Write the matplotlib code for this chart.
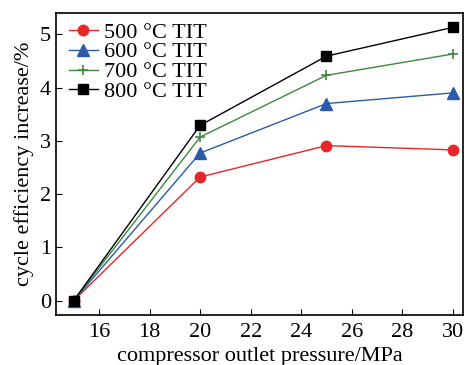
import numpy as np
import matplotlib
matplotlib.use('Agg')
import matplotlib.pyplot as plt

plt.rcParams['font.family'] = ['Liberation Serif', 'DejaVu Serif']

pressure = [15, 20, 25, 30]
eff_500 = [0, 2.32, 2.91, 2.83]
eff_600 = [0, 2.77, 3.70, 3.90]
eff_700 = [0, 3.07, 4.23, 4.63]
eff_800 = [0, 3.29, 4.59, 5.13]
labels = ['500 °C TIT', '600 °C TIT', '700 °C TIT', '800 °C TIT']

fig = plt.figure(figsize=(4.73, 3.65), dpi=100)
ax = fig.add_axes([56/473, 50/365, 407/473, 302/365])

ax.plot(pressure, eff_500, '-o', color='#e8262a', lw=1, ms=7.5, label=labels[0])
ax.plot(pressure, eff_600, '-^', color='#2a5aa8', lw=1, ms=8, label=labels[1])
ax.plot(pressure, eff_700, '-+', color='#3a8a3a', lw=1, ms=7, mew=1.2, label=labels[2])
ax.plot(pressure, eff_800, '-s', color='black', lw=1, ms=6.5, label=labels[3])

ax.set_xlim(14.3, 30.4)
ax.set_ylim(-0.27, 5.4)
ax.set_xticks([16, 18, 20, 22, 24, 26, 28, 30])
ax.set_yticks([0, 1, 2, 3, 4, 5])
ax.tick_params(direction='in', labelsize=16, length=4)
ax.tick_params(axis='x', pad=6)
for s in ax.spines.values():
    s.set_linewidth(1.2)
ax.set_xlabel('compressor outlet pressure/MPa', fontsize=16, labelpad=3)
ax.set_ylabel('cycle efficiency increase/%', fontsize=16, labelpad=4)
ax.legend(loc='upper left', frameon=False, fontsize=16, handlelength=1.3,
          handletextpad=0.28, labelspacing=-0.03, borderaxespad=0.0,
          borderpad=0.35, bbox_to_anchor=(0.012, 0.996))

fig.savefig('out.png', dpi=100)
